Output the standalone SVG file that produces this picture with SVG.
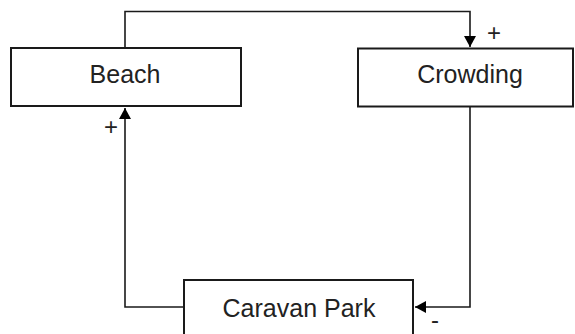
<svg xmlns="http://www.w3.org/2000/svg" width="575" height="334" viewBox="0 0 575 334">
  <style>
    .box { fill: #ffffff; stroke: #1a1a1a; stroke-width: 2; }
    .lbl { font-family: "Liberation Sans", Arial, sans-serif; font-size: 25px; fill: #222222; text-anchor: middle; }
    .sign { font-family: "Liberation Sans", Arial, sans-serif; font-size: 24px; fill: #222222; text-anchor: middle; }
    .conn { fill: none; stroke: #1a1a1a; stroke-width: 1.6; }
  </style>
  <defs>
    <marker id="arr" markerUnits="userSpaceOnUse" markerWidth="12" markerHeight="12" refX="11" refY="6" orient="auto">
      <path d="M0,0 L11,6 L0,12 Z" fill="#000000"/>
    </marker>
  </defs>
  <rect width="575" height="334" fill="#ffffff"/>
  <g id="connectors">
    <path class="conn" d="M125,48 V11.5 H470 V47" marker-end="url(#arr)"/>
    <path class="conn" d="M470,107 V307 H415" marker-end="url(#arr)"/>
    <path class="conn" d="M184,307 H125 V108" marker-end="url(#arr)"/>
  </g>
  <g id="beach">
    <rect class="box" x="11" y="48" width="230" height="58"/>
    <text class="lbl" x="125" y="83">Beach</text>
  </g>
  <g id="crowding">
    <rect class="box" x="358" y="48.5" width="215" height="58"/>
    <text class="lbl" x="470" y="83">Crowding</text>
  </g>
  <g id="caravan-park">
    <rect class="box" x="184" y="280" width="229" height="70"/>
    <text class="lbl" x="299" y="317">Caravan Park</text>
  </g>
  <g id="labels">
    <text class="sign" x="111" y="135">+</text>
    <text class="sign" x="494" y="41">+</text>
    <text class="sign" x="435" y="328">-</text>
  </g>
</svg>
